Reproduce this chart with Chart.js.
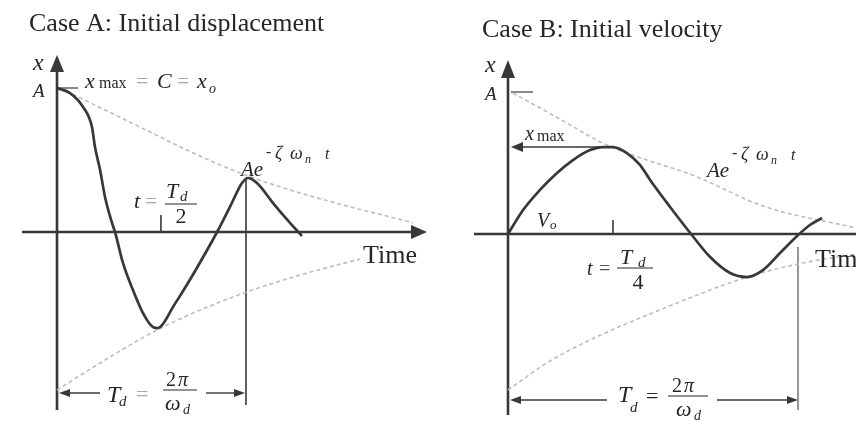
<!DOCTYPE html>
<html>
<head>
<meta charset="utf-8">
<script src="https://cdn.jsdelivr.net/npm/chart.js@4.4.1/dist/chart.umd.min.js"></script>
<style>
  html, body { margin: 0; padding: 0; background: #fff; }
  .wrap { position: relative; width: 856px; height: 421px; overflow: hidden; }
  canvas { position: absolute; top: 0; }
  #chartA { left: 0; }
  #chartB { left: 430px; }
</style>
</head>
<body>
<div class="wrap">
  <canvas id="chartA" width="430" height="421"></canvas>
  <canvas id="chartB" width="426" height="421"></canvas>
</div>
<script>
// time is in units of Td, displacement in units of A

// Case A: released from x = A with no initial velocity
const caseATime = [0, 0.069, 0.138, 0.185, 0.201, 0.228, 0.254, 0.291, 0.307, 0.349, 0.402, 0.455,
  0.508, 0.534, 0.56, 0.614, 0.667, 0.74, 0.847, 0.915, 0.979, 1.011, 1.058, 1.143, 1.233, 1.296];
const caseADisp = [1.0, 0.965, 0.868, 0.729, 0.59, 0.431, 0.243, 0.063, 0, -0.215, -0.403, -0.563,
  -0.66, -0.667, -0.64, -0.52, -0.41, -0.25, 0, 0.174, 0.34, 0.375, 0.34, 0.201, 0.063, -0.028];
const caseAUpperTime = [0.016, 0.439, 0.688, 0.968, 1.286, 1.884];
const caseAUpper = [1.0, 0.729, 0.569, 0.41, 0.271, 0.063];
const caseALowerTime = [0, 0.228, 0.529, 0.931, 1.286, 1.603];
const caseALower = [-1.097, -0.91, -0.681, -0.451, -0.299, -0.188];

// Case B: starts at x = 0 with initial velocity Vo
const caseBTime = [0, 0.052, 0.11, 0.169, 0.224, 0.283, 0.328, 0.362, 0.41, 0.455, 0.49, 0.559,
  0.634, 0.697, 0.766, 0.824, 0.879, 0.938, 0.997, 1.041, 1.083];
const caseBDisp = [0, 0.168, 0.308, 0.427, 0.517, 0.587, 0.608, 0.608, 0.566, 0.483, 0.378, 0.189,
  -0.007, -0.161, -0.273, -0.301, -0.252, -0.133, -0.014, 0.063, 0.112];
const caseBUpperTime = [0.017, 0.179, 0.341, 0.652, 0.879, 1.2];
const caseBUpper = [0.986, 0.804, 0.622, 0.399, 0.196, 0.042];
const caseBLowerTime = [0, 0.134, 0.283, 0.524, 0.824, 1.017, 1.2];
const caseBLower = [-1.091, -0.902, -0.741, -0.531, -0.301, -0.203, -0.14];

// marks on the time axis
const caseAHalfPeriod = 0.55;
const caseAPeakDisp = 0.375;
const caseBQuarterPeriod = 0.362;
const caseBMaxDisp = 0.608;

const SERIF = '"Liberation Serif", "DejaVu Serif", serif';
const INK = '#262626';
const LINE = '#383838';
const PALE = '#a8a8a8';
const ENVELOPE = '#bdbdbd';

const pts = (ts, xs) => ts.map((t, i) => ({ x: t, y: xs[i] }));

function text(ctx, s, x, y, size, opts = {}) {
  ctx.font = (opts.italic ? 'italic ' : '') + size + 'px ' + SERIF;
  ctx.fillStyle = opts.color || INK;
  ctx.textAlign = opts.align || 'left';
  ctx.textBaseline = 'alphabetic';
  ctx.fillText(s, x, y);
}

function seg(ctx, x1, y1, x2, y2, w, color) {
  ctx.save();
  ctx.strokeStyle = color || LINE;
  ctx.lineWidth = w;
  ctx.beginPath();
  ctx.moveTo(x1, y1);
  ctx.lineTo(x2, y2);
  ctx.stroke();
  ctx.restore();
}

// filled triangle with its tip at (x, y)
function head(ctx, x, y, dir, len, half, color) {
  ctx.save();
  ctx.fillStyle = color || LINE;
  ctx.beginPath();
  ctx.moveTo(x, y);
  if (dir === 'up') { ctx.lineTo(x - half, y + len); ctx.lineTo(x + half, y + len); }
  if (dir === 'right') { ctx.lineTo(x - len, y - half); ctx.lineTo(x - len, y + half); }
  if (dir === 'left') { ctx.lineTo(x + len, y - half); ctx.lineTo(x + len, y + half); }
  ctx.closePath();
  ctx.fill();
  ctx.restore();
}

// Ae^(-ζ ωn t), baseline of "Ae" at (x, y)
function envelopeLabel(ctx, x, y) {
  text(ctx, 'Ae', x, y, 21, { italic: true });
  text(ctx, '-', x + 25, y - 19, 16);
  text(ctx, 'ζ', x + 34, y - 17, 18, { italic: true });
  text(ctx, 'ω', x + 49, y - 17, 18, { italic: true });
  text(ctx, 'n', x + 64, y - 13, 12, { italic: true });
  text(ctx, 't', x + 84, y - 17, 16, { italic: true });
}

function envelope(ts, xs) {
  return {
    data: pts(ts, xs), borderColor: ENVELOPE, borderWidth: 1.6, borderDash: [4, 3],
    pointRadius: 0, cubicInterpolationMode: 'monotone', order: 2
  };
}

function makeChart(id, curve, upper, lower, range, plugin) {
  return new Chart(document.getElementById(id), {
    type: 'line',
    data: {
      datasets: [
        { data: curve, borderColor: LINE, borderWidth: 2.7, pointRadius: 0,
          cubicInterpolationMode: 'monotone', order: 1 },
        upper,
        lower
      ]
    },
    options: {
      responsive: false,
      animation: false,
      layout: { padding: 0 },
      plugins: { legend: { display: false }, tooltip: { enabled: false } },
      scales: {
        x: { type: 'linear', display: false, min: range.t[0], max: range.t[1] },
        y: { type: 'linear', display: false, min: range.x[0], max: range.x[1] }
      }
    },
    plugins: [plugin]
  });
}

const caseAPlugin = {
  id: 'caseA',
  beforeDatasetsDraw(chart) {
    const { ctx, scales: { x, y } } = chart;
    const X0 = x.getPixelForValue(0), XT = x.getPixelForValue(1);
    const Y0 = y.getPixelForValue(0), YA = y.getPixelForValue(1);
    // axes
    seg(ctx, X0, Y0 + 178, X0, YA - 16, 2.6);
    head(ctx, X0, YA - 33, 'up', 17, 7);
    seg(ctx, X0 - 35, Y0, chart.width - 18, Y0, 2.6);
    head(ctx, chart.width - 3, Y0, 'right', 16, 7);
    // A level, period line and half period tick
    seg(ctx, X0, YA, X0 + 21, YA, 1.2);
    seg(ctx, XT, y.getPixelForValue(caseAPeakDisp), XT, Y0 + 173, 1.6);
    const xh = x.getPixelForValue(caseAHalfPeriod);
    seg(ctx, xh, Y0 - 17, xh, Y0, 1.6);
    // period dimension arrow
    const ya = Y0 + 161;
    seg(ctx, X0 + 8, ya, X0 + 43, ya, 1.4);
    head(ctx, X0 + 2, ya, 'left', 11, 4);
    seg(ctx, XT - 40, ya, XT - 8, ya, 1.4);
    head(ctx, XT - 1, ya, 'right', 11, 4);
  },
  afterDatasetsDraw(chart) {
    const { ctx, scales: { x, y } } = chart;
    const X0 = x.getPixelForValue(0), XT = x.getPixelForValue(1);
    const Y0 = y.getPixelForValue(0), YA = y.getPixelForValue(1);
    text(ctx, 'Case A: Initial displacement', 29, 31, 26);
    text(ctx, 'x', X0 - 24, YA - 18, 24, { italic: true });
    text(ctx, 'A', X0 - 24, YA + 9, 19, { italic: true });
    // x_max = C = x_o
    text(ctx, 'x', X0 + 28, YA, 22, { italic: true });
    text(ctx, 'max', X0 + 42, YA, 16);
    text(ctx, '=', X0 + 79, YA, 22, { color: PALE });
    text(ctx, 'C', X0 + 100, YA, 22, { italic: true });
    text(ctx, '=', X0 + 120, YA, 22, { color: PALE });
    text(ctx, 'x', X0 + 140, YA, 22, { italic: true });
    text(ctx, 'o', X0 + 152, YA + 5, 14, { italic: true });
    // t = Td / 2
    const xh = x.getPixelForValue(caseAHalfPeriod);
    text(ctx, 't', xh - 27, Y0 - 24, 22, { italic: true });
    text(ctx, '=', xh - 16, Y0 - 24, 22, { color: PALE });
    text(ctx, 'T', xh + 5, Y0 - 34, 22, { italic: true });
    text(ctx, 'd', xh + 19, Y0 - 31, 15, { italic: true });
    seg(ctx, xh + 4, Y0 - 28, xh + 36, Y0 - 28, 1.2, INK);
    text(ctx, '2', xh + 20, Y0 - 9, 22, { align: 'center' });
    envelopeLabel(ctx, XT - 5, y.getPixelForValue(caseAPeakDisp) - 2);
    text(ctx, 'Time', chart.width - 67, Y0 + 31, 26);
    // Td = 2π / ωd
    const ya = Y0 + 161;
    text(ctx, 'T', X0 + 50, ya + 9, 24, { italic: true });
    text(ctx, 'd', X0 + 62, ya + 13, 15, { italic: true });
    text(ctx, '=', X0 + 79, ya + 8, 22, { color: PALE });
    text(ctx, '2', X0 + 109, ya - 7, 20);
    text(ctx, 'π', X0 + 121, ya - 7, 20, { italic: true });
    seg(ctx, X0 + 106, ya - 3, X0 + 140, ya - 3, 1.2, INK);
    text(ctx, 'ω', X0 + 108, ya + 17, 22, { italic: true });
    text(ctx, 'd', X0 + 126, ya + 21, 14, { italic: true });
  }
};

const caseBPlugin = {
  id: 'caseB',
  beforeDatasetsDraw(chart) {
    const { ctx, scales: { x, y } } = chart;
    const X0 = x.getPixelForValue(0), XT = x.getPixelForValue(1);
    const Y0 = y.getPixelForValue(0), YA = y.getPixelForValue(1);
    seg(ctx, X0, Y0 + 181, X0, YA - 14, 2.6);
    head(ctx, X0, YA - 31, 'up', 18, 7);
    seg(ctx, X0 - 34, Y0, chart.width, Y0, 2.6);
    seg(ctx, X0 + 3, YA + 1, X0 + 25, YA + 1, 1.2);
    // x_max arrow
    const ym = y.getPixelForValue(caseBMaxDisp);
    seg(ctx, X0 + 10, ym, x.getPixelForValue(0.35), ym, 1.6);
    head(ctx, X0 + 3, ym, 'left', 12, 5);
    // quarter period tick and period line
    const xq = x.getPixelForValue(caseBQuarterPeriod);
    seg(ctx, xq, Y0 - 14, xq, Y0, 1.6);
    seg(ctx, XT, Y0 + 13, XT, Y0 + 176, 1.4, '#6a6a6a');
    const ya = Y0 + 166;
    seg(ctx, X0 + 10, ya, X0 + 99, ya, 1.4);
    head(ctx, X0 + 2, ya, 'left', 11, 4);
    seg(ctx, X0 + 209, ya, XT - 8, ya, 1.4);
    head(ctx, XT, ya, 'right', 11, 4);
  },
  afterDatasetsDraw(chart) {
    const { ctx, scales: { x, y } } = chart;
    const X0 = x.getPixelForValue(0), XT = x.getPixelForValue(1);
    const Y0 = y.getPixelForValue(0), YA = y.getPixelForValue(1);
    text(ctx, 'Case B: Initial velocity', 52, 37, 26);
    text(ctx, 'x', X0 - 23, YA - 19, 24, { italic: true });
    text(ctx, 'A', X0 - 23, YA + 9, 19, { italic: true });
    const ym = y.getPixelForValue(caseBMaxDisp);
    text(ctx, 'x', X0 + 17, ym - 7, 20, { italic: true });
    text(ctx, 'max', X0 + 29, ym - 6, 16);
    text(ctx, 'V', X0 + 29, Y0 - 7, 20, { italic: true });
    text(ctx, 'o', X0 + 42, Y0 - 5, 13, { italic: true });
    // t = Td / 4
    const xq = x.getPixelForValue(caseBQuarterPeriod);
    text(ctx, 't', xq - 26, Y0 + 41, 20, { italic: true });
    text(ctx, '=', xq - 14, Y0 + 41, 20, { color: '#555' });
    text(ctx, 'T', xq + 7, Y0 + 30, 22, { italic: true });
    text(ctx, 'd', xq + 25, Y0 + 33, 15, { italic: true });
    seg(ctx, xq + 4, Y0 + 34, xq + 40, Y0 + 34, 1.2, INK);
    text(ctx, '4', xq + 25, Y0 + 55, 22, { align: 'center' });
    envelopeLabel(ctx, X0 + 199, Y0 - 57);
    text(ctx, 'Time', XT + 17, Y0 + 33, 26);
    // Td = 2π / ωd
    const ya = Y0 + 166;
    text(ctx, 'T', X0 + 110, ya + 2, 24, { italic: true });
    text(ctx, 'd', X0 + 122, ya + 12, 15, { italic: true });
    text(ctx, '=', X0 + 138, ya + 3, 22);
    text(ctx, '2', X0 + 164, ya - 8, 20);
    text(ctx, 'π', X0 + 176, ya - 8, 20, { italic: true });
    seg(ctx, X0 + 160, ya - 4, X0 + 200, ya - 4, 1.2, INK);
    text(ctx, 'ω', X0 + 168, ya + 16, 22, { italic: true });
    text(ctx, 'd', X0 + 186, ya + 20, 14, { italic: true });
  }
};

// axis ranges put t = 0 and x = 0 where the two sketches cross their axes
makeChart('chartA', pts(caseATime, caseADisp),
  envelope(caseAUpperTime, caseAUpper), envelope(caseALowerTime, caseALower),
  { t: [-57 / 189, 373 / 189], x: [-189 / 144, 232 / 144] }, caseAPlugin);

makeChart('chartB', pts(caseBTime, caseBDisp),
  envelope(caseBUpperTime, caseBUpper), envelope(caseBLowerTime, caseBLower),
  { t: [-78 / 290, 348 / 290], x: [-187 / 143, 234 / 143] }, caseBPlugin);
</script>
</body>
</html>
